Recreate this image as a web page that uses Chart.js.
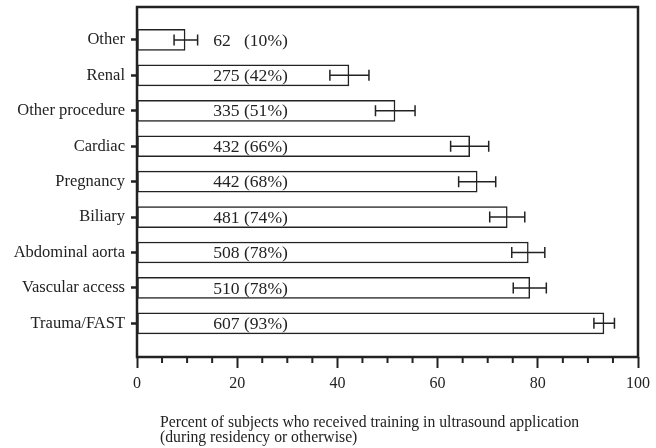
<!DOCTYPE html>
<html>
<head>
<meta charset="utf-8">
<script src="https://cdn.jsdelivr.net/npm/chart.js@4/dist/chart.umd.min.js"></script>
<style>
  html, body { margin: 0; padding: 0; background: #fff; }
  #wrap { width: 656px; height: 448px; }
</style>
</head>
<body>
<div id="wrap"><canvas id="usChart" width="656" height="448"></canvas></div>
<script>
// categories, top to bottom
const categories = ["Other", "Renal", "Other procedure", "Cardiac", "Pregnancy",
                    "Biliary", "Abdominal aorta", "Vascular access", "Trauma/FAST"];
// percent of subjects trained
const percents = [9.6, 42.3, 51.5, 66.4, 67.9, 73.9, 78.1, 78.4, 93.2];
// 95% CI ends
const ciLow  = [7.4, 38.5, 47.6, 62.6, 64.2, 70.4, 74.8, 75.1, 91.2];
const ciHigh = [12.1, 46.3, 55.5, 70.2, 71.6, 77.4, 81.4, 81.7, 95.3];
// text written in each bar
const barTexts = ["62   (10%)", "275 (42%)", "335 (51%)", "432 (66%)", "442 (68%)",
                  "481 (74%)", "508 (78%)", "510 (78%)", "607 (93%)"];
const xTicks = [0, 20, 40, 60, 80, 100];
const minorTicks = [5, 10, 15, 25, 30, 35, 45, 50, 55, 65, 70, 75, 85, 90, 95];
const xTitle = ["Percent of subjects who received training in ultrasound application",
                "(during residency or otherwise)"];

const ink = "#222";
const serif = "'Liberation Serif', 'Times New Roman', serif";

// frame, minor ticks, error bars, texts in bars, axis title
const extras = {
    id: "extras",
    afterDatasetsDraw(chart) {
        const ctx = chart.ctx, xs = chart.scales.x, ys = chart.scales.y;
        const a = chart.chartArea;
        ctx.save();
        ctx.strokeStyle = ink;

        // error bars
        ctx.lineWidth = 1.5;
        for (let i = 0; i < categories.length; i++) {
            const y = ys.getPixelForValue(i);
            const x1 = xs.getPixelForValue(ciLow[i]);
            const x2 = xs.getPixelForValue(ciHigh[i]);
            ctx.beginPath();
            ctx.moveTo(x1, y); ctx.lineTo(x2, y);
            ctx.moveTo(x1, y - 5.5); ctx.lineTo(x1, y + 5.5);
            ctx.moveTo(x2, y - 5.5); ctx.lineTo(x2, y + 5.5);
            ctx.stroke();
        }

        // counts in bars
        ctx.fillStyle = ink;
        ctx.font = "17.6px " + serif;
        ctx.textAlign = "left";
        ctx.textBaseline = "middle";
        const tx = xs.getPixelForValue(15.2);
        barTexts.forEach((t, i) => ctx.fillText(t, tx, ys.getPixelForValue(i) + 1));

        // box
        ctx.lineWidth = 2.5;
        ctx.strokeRect(a.left, a.top, a.right - a.left, a.bottom - a.top);

        // minor ticks
        ctx.lineWidth = 2;
        ctx.beginPath();
        minorTicks.forEach(v => {
            const x = xs.getPixelForValue(v);
            ctx.moveTo(x, a.bottom); ctx.lineTo(x, a.bottom + 6);
        });
        ctx.stroke();

        // x axis title
        ctx.font = "15.7px " + serif;
        ctx.textBaseline = "middle";
        xTitle.forEach((t, k) => ctx.fillText(t, a.left + 23, a.bottom + 66 + k * 15));
        ctx.restore();
    }
};

new Chart(document.getElementById("usChart"), {
    type: "bar",
    data: {
        datasets: [{
            data: percents.map((v, i) => ({ x: v, y: i })),
            backgroundColor: "#fff",
            borderColor: ink,
            borderWidth: 1.5,
            borderSkipped: false,
            barThickness: 21
        }]
    },
    options: {
        indexAxis: "y",
        responsive: false,
        animation: false,
        layout: { padding: { left: 0, right: 18, top: 7, bottom: 0 } },
        plugins: { legend: { display: false }, tooltip: { enabled: false } },
        scales: {
            x: {
                type: "linear",
                min: 0, max: 100,
                afterBuildTicks: s => { s.ticks = xTicks.map(v => ({ value: v })); },
                afterFit: s => { s.height = 91; },
                grid: { drawOnChartArea: false, tickLength: 11, tickWidth: 2, tickColor: ink },
                border: { display: false },
                ticks: { color: ink, font: { family: serif, size: 16 }, padding: 6, maxRotation: 0 }
            },
            y: {
                type: "linear",
                reverse: true,
                offset: false,
                min: -0.93, max: 8.95,
                afterBuildTicks: s => { s.ticks = categories.map((c, i) => ({ value: i })); },
                afterFit: s => { s.width = 137; s.paddingTop = 0; s.paddingBottom = 0; },
                grid: { offset: false, drawOnChartArea: false, tickLength: 6, tickWidth: 2.5, tickColor: ink },
                border: { display: false },
                ticks: {
                    color: ink, font: { family: serif, size: 16.5 }, padding: 6,
                    callback: v => categories[v]
                }
            }
        }
    },
    plugins: [extras]
});
</script>
</body>
</html>
